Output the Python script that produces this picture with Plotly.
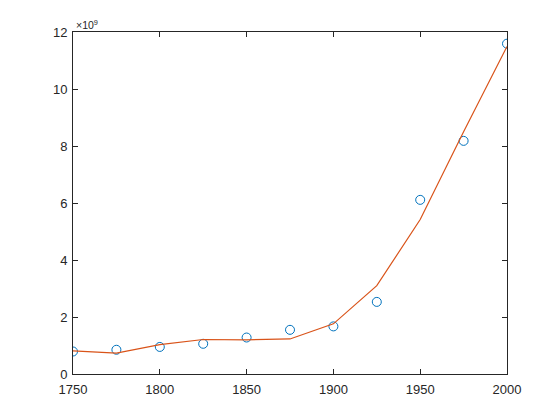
import plotly.graph_objects as go

years = [1750, 1775, 1800, 1825, 1850, 1875, 1900, 1925, 1950, 1975, 2000]
observed = [0.79, 0.85, 0.95, 1.06, 1.28, 1.55, 1.67, 2.53, 6.11, 8.18, 11.59]
fitted = [0.81, 0.73, 1.03, 1.21, 1.20, 1.23, 1.76, 3.10, 5.42, 8.50, 11.49]
xticks = [1750, 1800, 1850, 1900, 1950, 2000]
yticks = [0, 2, 4, 6, 8, 10, 12]

fig = go.Figure()
fig.add_trace(go.Scatter(x=years, y=observed, mode="markers",
                         marker=dict(symbol="circle-open", size=9, color="#0072BD", line=dict(width=1)),
                         showlegend=False))
fig.add_trace(go.Scatter(x=years, y=fitted, mode="lines",
                         line=dict(color="#D95319", width=1.2), showlegend=False))

axis_common = dict(showline=True, linecolor="#262626", linewidth=1, mirror="ticks",
                   ticks="inside", ticklen=5, tickcolor="#262626", showgrid=False,
                   zeroline=False, automargin=False,
                   tickfont=dict(family="Liberation Sans, Arial", size=13, color="#262626"))
fig.update_xaxes(range=[1750, 2000], tickvals=xticks, ticktext=[str(t) for t in xticks],
                 ticklabelstandoff=3, **axis_common)
fig.update_yaxes(range=[0, 12], tickvals=yticks, ticktext=[str(t) for t in yticks],
                 ticklabelstandoff=2, **axis_common)

fig.add_annotation(text="×10<sup>9</sup>", xref="paper", yref="paper", x=0, y=1,
                   xanchor="left", yanchor="bottom", showarrow=False, xshift=1, yshift=-1,
                   font=dict(family="Liberation Sans, Arial", size=10.5, color="#262626"))

fig.update_layout(width=552, height=412, plot_bgcolor="white", paper_bgcolor="white",
                  margin=dict(l=65, r=53, t=24, b=46))
fig.write_html("out.html")
